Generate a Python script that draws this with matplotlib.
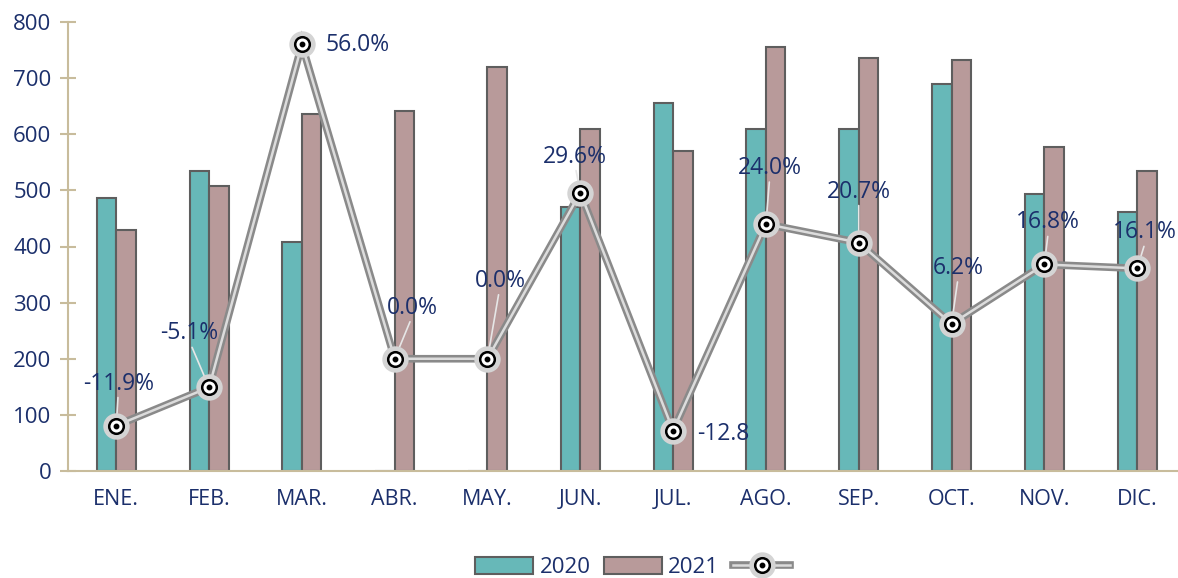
import numpy as np
import matplotlib.pyplot as plt
from matplotlib.legend_handler import HandlerTuple
from matplotlib.lines import Line2D

plt.rcParams['font.family'] = ['Open Sans', 'DejaVu Sans']

meses = ["ENE.", "FEB.", "MAR.", "ABR.", "MAY.", "JUN.", "JUL.", "AGO.", "SEP.", "OCT.", "NOV.", "DIC."]
v2020 = [487, 535, 408, 0, 0, 470, 656, 609, 609, 690, 494, 461]
v2021 = [429, 508, 636, 642, 720, 609, 570, 756, 736, 733, 577, 535]
var_pct = [-11.9, -5.1, 56.0, 0.0, 0.0, 29.6, -12.8, 24.0, 20.7, 6.2, 16.8, 16.1]
etiquetas = ["-11.9%", "-5.1%", "56.0%", "0.0%", "0.0%", "29.6%", "-12.8", "24.0%", "20.7%", "6.2%", "16.8%", "16.1%"]

# label offsets in pixels (dx, dy) and whether a leader line is drawn
offsets = [(2, 42), (-20, 54), (56, -1), (18, 51), (13, 78), (-5, 36),
           (50, -3), (4, 56), (0, 51), (7, 56), (4, 42), (8, 36)]
leader = [True, True, False, True, True, True, False, True, True, True, True, True]

navy = "#1b2f6b"
tan = "#c8bc9c"
teal = "#67b8b8"
rose = "#b89a9a"
edge = "#5e5e5e"

fig = plt.figure(figsize=(11.78, 5.78), dpi=100)
ax = fig.add_axes([68/1178, 107/578, 1 - 68/1178, 449/578])

x = np.arange(len(meses))
w = 0.21
ax.bar(x - w/2, v2020, w, color=teal, edgecolor=edge, linewidth=1.5, label="2020", zorder=2)
ax.bar(x + w/2, v2021, w, color=rose, edgecolor=edge, linewidth=1.5, label="2021", zorder=2)

ax.set_xlim(-0.52, 11.44)
ax.set_ylim(0, 800)
ax.set_yticks(range(0, 801, 100))
ax.set_xticks(x)
ax.set_xticklabels(meses)
ax.tick_params(axis='y', colors=tan, labelcolor=navy, labelsize=16, direction='inout', length=12, width=1.5, pad=6)
ax.tick_params(axis='x', length=0, labelcolor=navy, labelsize=15.5, pad=13)
for s in ["top", "right"]:
    ax.spines[s].set_visible(False)
ax.spines["left"].set_color(tan)
ax.spines["bottom"].set_color(tan)
ax.spines["left"].set_linewidth(1.5)
ax.spines["bottom"].set_linewidth(1.5)

# variation line on hidden secondary axis
ax2 = ax.twinx()
ax2.set_ylim(-20, 60)
ax2.axis("off")
ax2.plot(x, var_pct, color="#8a8a8a", lw=5.5, zorder=3, solid_joinstyle='miter')
ax2.plot(x, var_pct, color="#dcdcdc", lw=1.8, zorder=4, solid_joinstyle='miter')
ax2.plot(x, var_pct, 'o', ms=19, mfc="#d4d4d4", mec="none", zorder=5)
ax2.plot(x, var_pct, 'o', ms=10.5, mfc="white", mec="black", mew=1.8, zorder=6)
ax2.plot(x, var_pct, 'o', ms=3.2, mfc="black", mec="black", zorder=7)

for xi, yi, txt, (dx, dy), ld in zip(x, var_pct, etiquetas, offsets, leader):
    ax2.annotate(txt, (xi, yi), xytext=(dx, dy), textcoords='offset pixels',
                 ha='center', va='center', color=navy, fontsize=16.5, zorder=8)
    if ld:
        ax2.annotate("", (xi, yi), xytext=(dx * 0.85, dy - 14), textcoords='offset pixels',
                     arrowprops=dict(arrowstyle='-', color="#e6e6e6", lw=1.2, shrinkA=0, shrinkB=8), zorder=4)

# legend
h1, l1 = ax.get_legend_handles_labels()
lh = (Line2D([], [], color="#8a8a8a", lw=5.5),
      Line2D([], [], color="#dcdcdc", lw=1.8),
      Line2D([], [], ls='none', marker='o', ms=19, mfc="#d4d4d4", mec="none"),
      Line2D([], [], ls='none', marker='o', ms=10.5, mfc="white", mec="black", mew=1.8),
      Line2D([], [], ls='none', marker='o', ms=3.2, mfc="black", mec="black"))
leg = fig.legend(h1 + [lh], l1 + [""], loc='lower center', bbox_to_anchor=(0.54, -0.035), ncol=3,
                 frameon=False, fontsize=16, handler_map={tuple: HandlerTuple(ndivide=1, pad=0)},
                 handlelength=2.6, handleheight=0.8, columnspacing=0.6, handletextpad=0.3)
for t in leg.get_texts():
    t.set_color(navy)

fig.savefig("out.png", dpi=100)
